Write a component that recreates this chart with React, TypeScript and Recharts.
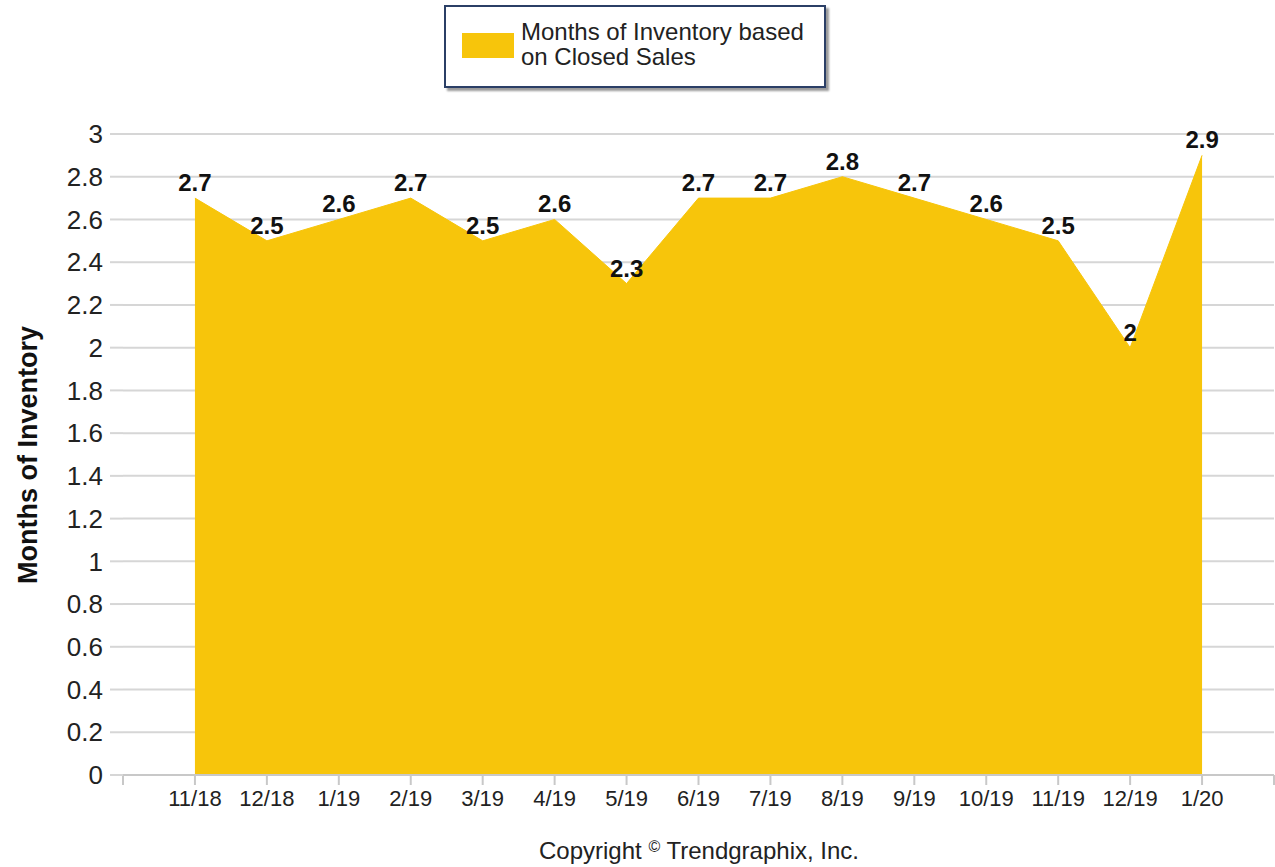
import React from 'react';
import {
  AreaChart,
  Area,
  XAxis,
  YAxis,
  CartesianGrid,
  LabelList
} from 'recharts';

const months = ['11/18', '12/18', '1/19', '2/19', '3/19', '4/19', '5/19', '6/19', '7/19', '8/19', '9/19', '10/19', '11/19', '12/19', '1/20'];
const inventory = [2.7, 2.5, 2.6, 2.7, 2.5, 2.6, 2.3, 2.7, 2.7, 2.8, 2.7, 2.6, 2.5, 2.0, 2.9];
const yTicks = [0, 0.2, 0.4, 0.6, 0.8, 1, 1.2, 1.4, 1.6, 1.8, 2, 2.2, 2.4, 2.6, 2.8, 3];
// one empty slot before the first month, like the original axis
const xTicks = [-1, ...months.map((_, i) => i), months.length];

const seriesName = 'Months of Inventory based on Closed Sales';
const FONT = '"Liberation Sans", Arial, sans-serif';
const YELLOW = '#F7C50B';

const data = months.map((m, i) => ({ idx: i, month: m, value: inventory[i] }));

const YTitle = () => (
  <text
    x={0}
    y={0}
    transform="translate(37, 455) rotate(-90)"
    textAnchor="middle"
    fontFamily={FONT}
    fontSize={27}
    fontWeight="bold"
    fill="#111"
  >
    Months of Inventory
  </text>
);

const App: React.FC = () => {
  return (
    <div style={{ position: 'absolute', left: 0, top: 0, width: 1275, height: 867, background: '#fff', fontFamily: FONT }}>
      <AreaChart
        width={1275}
        height={867}
        data={data}
        margin={{ top: 134, right: 1, left: 0, bottom: 52 }}
      >
        <CartesianGrid vertical={false} stroke="#d6d6d6" strokeWidth={2} />
        <XAxis
          type="number"
          dataKey="idx"
          domain={[-1, months.length]}
          ticks={xTicks}
          interval={0}
          height={40}
          tickFormatter={(v: number) => months[v] ?? ''}
          tick={{ fill: '#222', fontSize: 22, fontFamily: FONT }}
          tickSize={10}
          tickMargin={5}
          tickLine={{ stroke: '#c8c8c8', strokeWidth: 2 }}
          axisLine={{ stroke: '#c8c8c8', strokeWidth: 2 }}
        />
        <YAxis
          domain={[0, 3]}
          ticks={yTicks}
          interval={0}
          width={123}
          tickFormatter={(v: number) => String(+v.toFixed(1))}
          tick={{ fill: '#222', fontSize: 26, fontFamily: FONT }}
          tickSize={13}
          tickMargin={7}
          tickLine={{ stroke: '#d6d6d6', strokeWidth: 2 }}
          axisLine={false}
          label={{ content: () => <YTitle /> }}
        />
        <Area
          type="linear"
          dataKey="value"
          name={seriesName}
          stroke={YELLOW}
          strokeWidth={1}
          fill={YELLOW}
          fillOpacity={1}
          dot={false}
          activeDot={false}
          isAnimationActive={false}
        >
          <LabelList
            dataKey="value"
            position="top"
            offset={7}
            fill="#111"
            fontSize={24}
            fontWeight="bold"
            fontFamily={FONT}
          />
        </Area>
      </AreaChart>

      <div
        style={{
          position: 'absolute',
          left: 444,
          top: 5,
          width: 378,
          height: 79,
          border: '2px solid #2b3f66',
          boxShadow: '3px 3px 2px #9a9a9a',
          background: '#fff',
          boxSizing: 'content-box'
        }}
      >
        <div style={{ position: 'absolute', left: 16, top: 26, width: 52, height: 25, background: YELLOW }} />
        <div style={{ position: 'absolute', left: 75, top: 12, fontSize: 24, lineHeight: '25px', color: '#222' }}>
          Months of Inventory based
          <br />
          on Closed Sales
        </div>
      </div>

      <div style={{ position: 'absolute', left: 0, width: 1398, top: 837, textAlign: 'center', fontSize: 24, color: '#222' }}>
        Copyright <span style={{ fontSize: 16, verticalAlign: 7 }}>©</span> Trendgraphix, Inc.
      </div>
    </div>
  );
};

export default App;
